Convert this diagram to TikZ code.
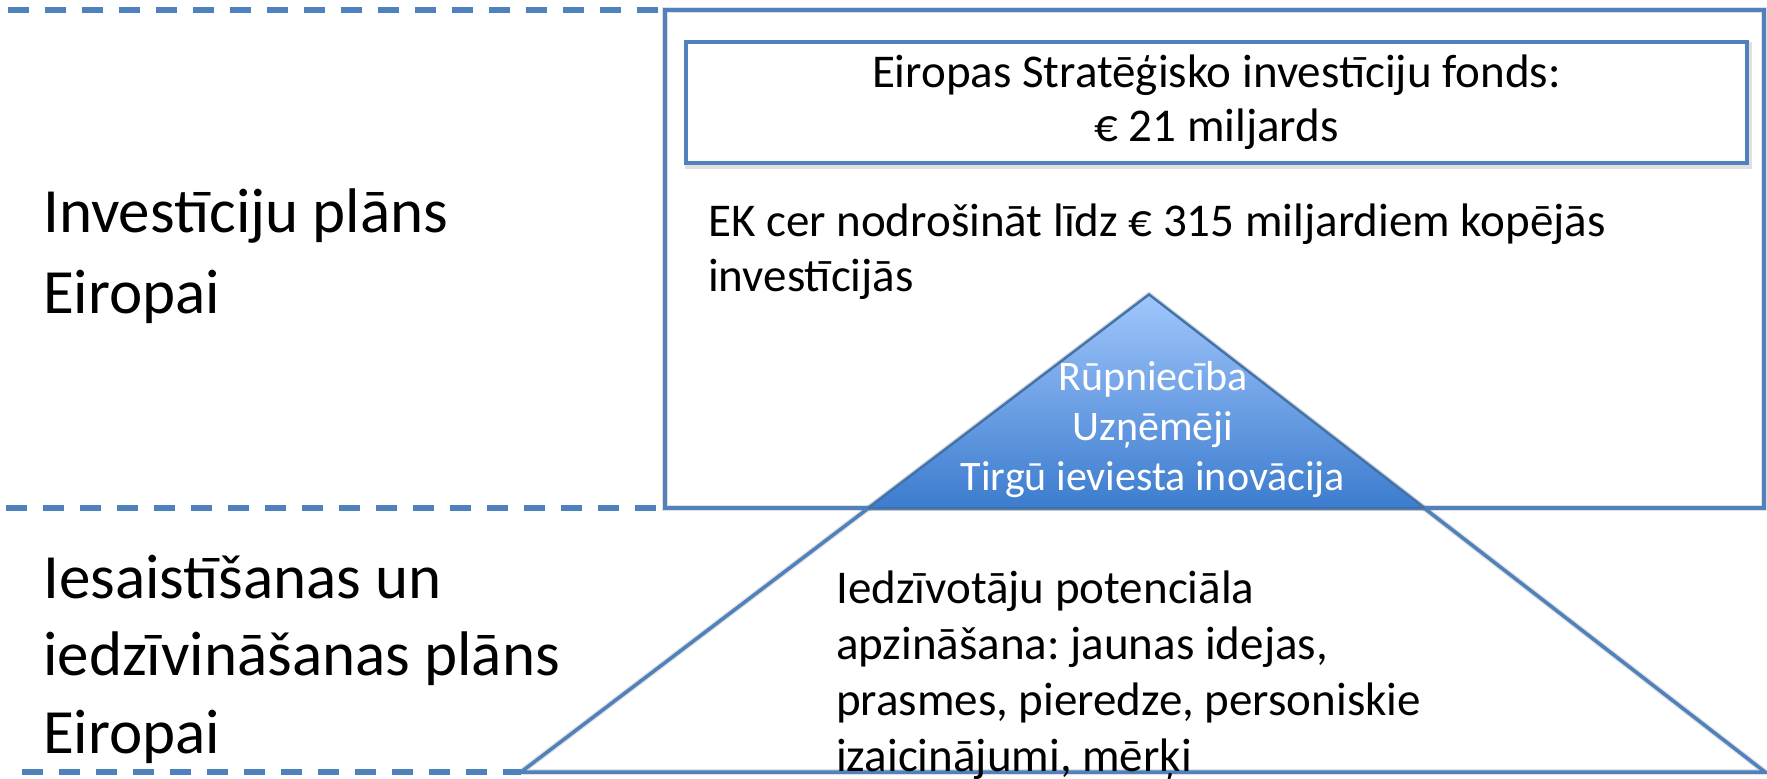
\documentclass[tikz,border=0pt]{standalone}
\usepackage{fontspec}
\setmainfont{Carlito}
\usetikzlibrary{calc}
\frenchspacing
\definecolor{ln}{RGB}{79,129,189}
\definecolor{gtop}{RGB}{160,198,252}
\definecolor{gbot}{RGB}{60,124,206}
\begin{document}
\begin{tikzpicture}[x=1pt,y=-1pt,
  bline/.style={draw=ln, line width=4},
  tline/.style={draw=ln, line width=3.5},
  dline/.style={draw=ln, line width=6, dash pattern=on 21pt off 16pt},
  shadowln/.style={draw=black, opacity=0.12, line width=6},
  lefttxt/.style={inner sep=0, anchor=base west, align=left},
]
\useasboundingbox (0,0) rectangle (1767,779);
\fill[white] (0,0) rectangle (1767,779);

% key points
\coordinate (tdA) at (8,10);
\coordinate (tdB) at (665,10);
\coordinate (mdA) at (6,508);
\coordinate (mdB) at (665,508);
\coordinate (bdA) at (22,772);
\coordinate (boxTL) at (665,10);
\coordinate (boxBR) at (1764,508);
\coordinate (apex) at (1149,295);
\coordinate (baseL) at (521,772);
\coordinate (baseR) at (1765,772);
\coordinate (gL) at ($(apex)!0.4465!(baseL)$);
\coordinate (gR) at ($(apex)!0.4465!(baseR)$);

% shadows
\begin{scope}[shift={(2,3)}]
  \draw[shadowln] (boxTL) rectangle (boxBR);
  \draw[shadowln] (apex) -- (baseL) -- (baseR) -- cycle;
  \draw[shadowln] (gL) -- (gR);
  \draw[shadowln] (686,42) rectangle (1747,163);
\end{scope}

% dashed separators
\draw[dline] (tdA) -- (tdB);
\draw[dline] (mdA) -- (mdB);

% outer box
\draw[bline] (boxTL) rectangle (boxBR);

% big triangle
\draw[tline] (apex) -- (baseL) -- (baseR) -- cycle;
\draw[dline] (bdA) -- (baseL);

% gradient top of the pyramid
\shade[top color=gtop, bottom color=gbot, draw=ln!85!black, line width=1.5]
  (apex) -- (gL) -- (gR) -- cycle;

% fund box
\node[draw=ln, line width=4, fill=white, minimum width=1061, minimum height=121, inner sep=0,
      align=center, font=\fontsize{47}{54}\selectfont] (fund) at (1216.5,102.5)
  {Eiropas Stratēģisko investīciju fonds:\\€ 21 miljards};

% texts (anchor = baseline of the last line)
\node[lefttxt, font=\fontsize{63}{81}\selectfont] (inv) at (43,313) {Investīciju plāns\\Eiropai};
\node[lefttxt, font=\fontsize{63}{77.5}\selectfont] (ies) at (43,753) {Iesaistīšanas un\\iedzīvināšanas plāns\\Eiropai};
\node[lefttxt, font=\fontsize{47}{55}\selectfont] (ek) at (708,291) {EK cer nodrošināt līdz € 315 miljardiem kopējās\\investīcijās};
\node[inner sep=0, anchor=base, align=center, text=white,
      font=\fontsize{42}{50}\selectfont] (pyr) at (1153,490)
  {Rūpniecība\\Uzņēmēji\\Tirgū ieviesta inovācija};
\node[lefttxt, font=\fontsize{47}{56}\selectfont] (iedz) at (836,771)
  {Iedzīvotāju potenciāla\\apzināšana: jaunas idejas,\\prasmes, pieredze, personiskie\\izaicinājumi, mērķi};
\end{tikzpicture}
\end{document}
